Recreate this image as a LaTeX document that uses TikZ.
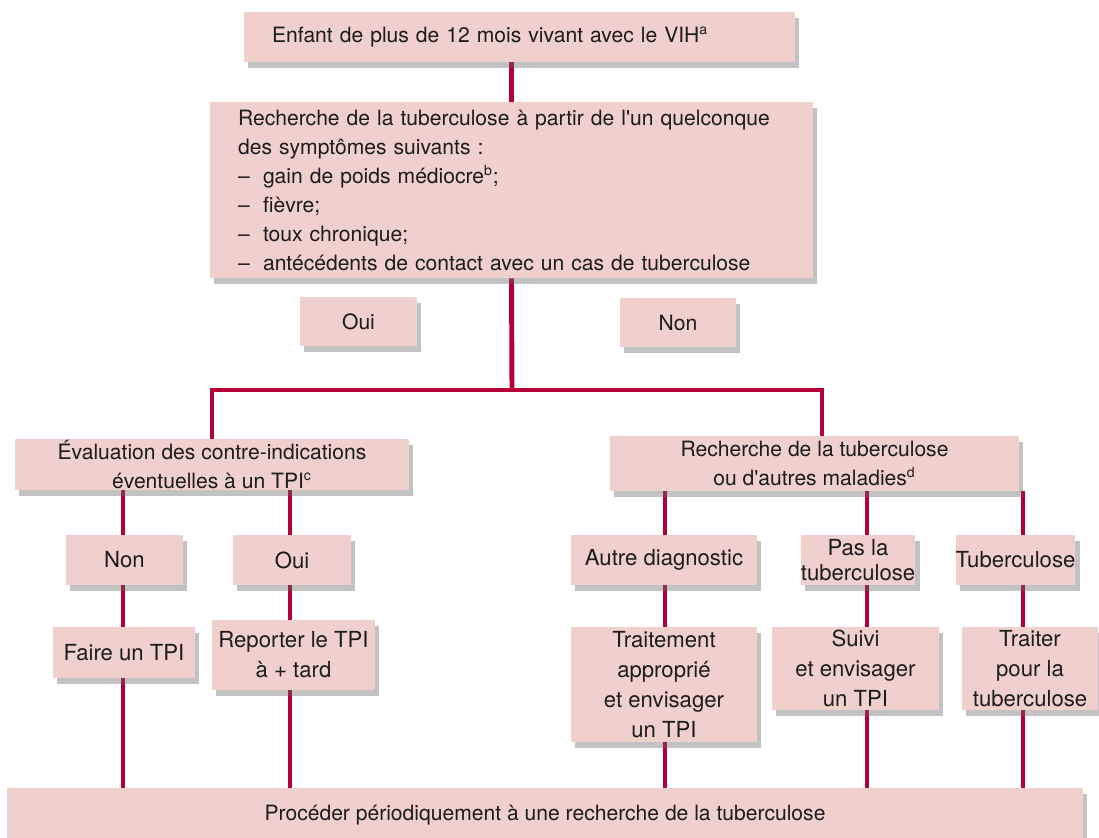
\documentclass[tikz,border=0pt]{standalone}
\usepackage{fontspec}
\setmainfont{TeX Gyre Heros}
\usepackage{xcolor}
\usepackage{tikz}
\usetikzlibrary{
  shadows,
  backgrounds,
  positioning
}
\definecolor{boxpink}{RGB}{239,208,205}
\definecolor{linered}{RGB}{180,0,55}
\definecolor{textgray}{RGB}{28,28,28}
\tikzset{
  flowbox/.style  = {fill=boxpink, inner sep=0pt, align=center, text=textgray,
                     font=\fontsize{12}{16.5}\selectfont,
                     drop shadow={shadow xshift=2.5pt, shadow yshift=-3.5pt,
                                  opacity=0.4, fill=black!60}},
  lowbox/.style   = {flowbox, font=\fontsize{12.6}{17}\selectfont},
  link/.style     = {draw=linered, line width=2.8pt},
}

\begin{document}
\begin{tikzpicture}[x=0.02cm, y=-0.02cm] % one unit = one pixel of the 1099x838 frame

    \useasboundingbox (0,0) rectangle (1099,838);

    % --- TOP: CHILD AND SCREENING ---
    \node[flowbox, minimum width=11.02cm, minimum height=1cm, text width=9.9cm, align=left]
        (enfant) at (519.5,37) {Enfant de plus de 12 mois vivant avec le VIH\textsuperscript{a}};

    \node[flowbox, minimum width=12.06cm, minimum height=3.52cm, text width=10.94cm, align=left]
        (symptomes) at (511.5,190) {Recherche de la tuberculose à partir de l\textquotesingle un quelconque\\
        des symptômes suivants :\\
        \makebox[0.5cm][l]{–}gain de poids médiocre\textsuperscript{b};\\
        \makebox[0.5cm][l]{–}fièvre;\\
        \makebox[0.5cm][l]{–}toux chronique;\\
        \makebox[0.5cm][l]{–}antécédents de contact avec un cas de tuberculose};

    \node[flowbox, minimum width=2.34cm, minimum height=0.98cm] (ouiA) at (358.5,321.5) {Oui};
    \node[flowbox, minimum width=2.32cm, minimum height=0.98cm] (nonA) at (678,322.5) {Non};

    % --- LEFT BRANCH: TPI ---
    \node[flowbox, minimum width=7.88cm, minimum height=1.02cm]
        (evaluation) at (212,464.5) {Évaluation des contre-indications\\éventuelles à un TPI\textsuperscript{c}};

    \node[lowbox, minimum width=2.34cm, minimum height=1cm] (nonB) at (124.5,560) {Non};
    \node[lowbox, minimum width=2.36cm, minimum height=1cm] (ouiB) at (292,560) {Oui};

    \node[lowbox, minimum width=2.84cm, minimum height=1.02cm] (faire) at (124,652.5) {Faire un TPI};
    \node[lowbox, minimum width=3.26cm, minimum height=1.4cm] (reporter) at (293.5,655) {Reporter le TPI\\à + tard};

    % --- RIGHT BRANCH: TB WORK-UP ---
    \node[flowbox, minimum width=8.18cm, minimum height=1.1cm]
        (recherche) at (814.5,463.5) {Recherche de la tuberculose\\ou d\textquotesingle autres maladies\textsuperscript{d}};

    \node[lowbox, minimum width=3.72cm, minimum height=1cm] (autre) at (664,560) {Autre diagnostic};
    \node[lowbox, minimum width=2.28cm, minimum height=1cm, font=\fontsize{12.6}{14}\selectfont]
        (pasla) at (858,560) {Pas la\\tuberculose};
    \node[lowbox, minimum width=2.14cm, minimum height=1cm] (tuber) at (1015.5,560) {Tuberculose};

    \node[lowbox, minimum width=3.72cm, minimum height=2.3cm]
        (traitement) at (664,684.5) {Traitement\\approprié\\et envisager\\un TPI};
    \node[lowbox, minimum width=3.34cm, minimum height=1.66cm]
        (suivi) at (855.5,668.5) {Suivi\\et envisager\\un TPI};
    \node[lowbox, minimum width=2.72cm, minimum height=1.66cm]
        (traiter) at (1030,668.5) {Traiter\\pour la\\tuberculose};

    % --- BOTTOM ---
    \node[flowbox, minimum width=21.52cm, minimum height=1.08cm]
        (periodique) at (545,815) {Procéder périodiquement à une recherche de la tuberculose};

    % --- CONNECTORS (behind the boxes) ---
    \coordinate (split) at (512,390);
    \coordinate (colR) at (822,390);
    \coordinate (col1) at (123,0);
    \coordinate (col2) at (290,0);
    \coordinate (col3) at (665,0);
    \coordinate (col4) at (867,0);
    \coordinate (col5) at (1023,0);

    \begin{scope}[on background layer]
        \draw[link] (symptomes.north) -- (symptomes.north |- enfant.south);
        \draw[link] (symptomes.south) -- (split);
        \draw[link] (evaluation.north) -- (evaluation.north |- split) -- (colR) -- (colR |- recherche.north);

        \foreach \c in {col1, col2}
            \draw[link] (evaluation.south -| \c) -- (periodique.north -| \c);
        \foreach \c in {col3, col4, col5}
            \draw[link] (recherche.south -| \c) -- (periodique.north -| \c);
    \end{scope}

\end{tikzpicture}
\end{document}
